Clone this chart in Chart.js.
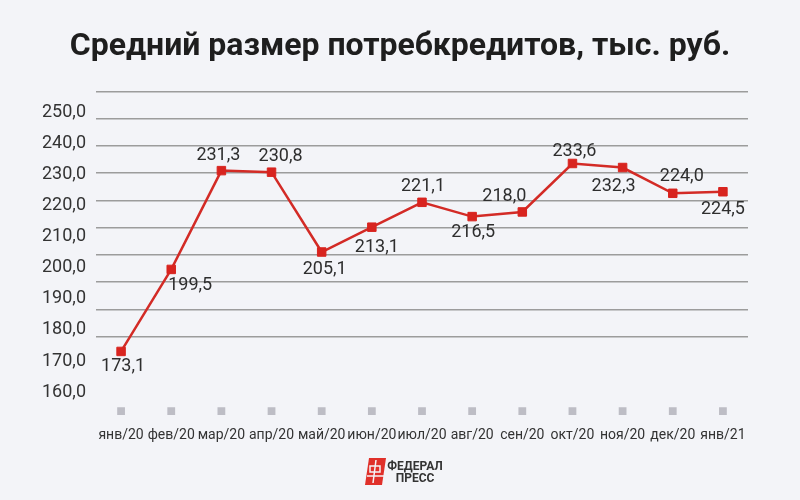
<!DOCTYPE html>
<html>
<head>
<meta charset="utf-8">
<script src="https://cdn.jsdelivr.net/npm/chart.js@4.4.1/dist/chart.umd.min.js"></script>
<style>
  html, body { margin: 0; padding: 0; background: #f3f4f8; }
  #wrap { width: 800px; height: 500px; }
</style>
</head>
<body>
<div id="wrap"><canvas id="loan-chart" width="800" height="500"></canvas></div>
<script>
let months = ['янв/20', 'фев/20', 'мар/20', 'апр/20', 'май/20', 'июн/20', 'июл/20',
              'авг/20', 'сен/20', 'окт/20', 'ноя/20', 'дек/20', 'янв/21'];
let avgLoan = [173.1, 199.5, 231.3, 230.8, 205.1, 213.1, 221.1, 216.5, 218.0, 233.6, 232.3, 224.0, 224.5];
let yTicks = [160, 170, 180, 190, 200, 210, 220, 230, 240, 250];
// grey squares row under the plot
let markerRow = [153.9, 153.9, 153.9, 153.9, 153.9, 153.9, 153.9, 153.9, 153.9, 153.9, 153.9, 153.9, 153.9];

// label offsets from each point (dx, dy)
let labelShift = [[2, 15], [19, 16], [-3, -15], [9, -16], [3, 17], [5, 20], [1, -16],
                  [1, 16], [-18, -15], [2, -12], [-9, 19], [9, -17], [0, 18]];

function fmt(v) {
    return v.toFixed(1).replace('.', ',');
}

// value labels------
const valueLabels = {
    id: 'valueLabels',
    afterDatasetsDraw(chart) {
        const ctx = chart.ctx;
        const meta = chart.getDatasetMeta(0);
        ctx.save();
        ctx.font = '18px Roboto';
        ctx.fillStyle = '#2e2e2e';
        ctx.textAlign = 'center';
        ctx.textBaseline = 'middle';
        meta.data.forEach((pt, i) => {
            const s = labelShift[i];
            ctx.fillText(fmt(avgLoan[i]), pt.x + s[0], pt.y + s[1]);
        });
        ctx.restore();
    }
};

// logo at the bottom------
const logo = {
    id: 'logo',
    afterDraw(chart) {
        const ctx = chart.ctx;
        ctx.save();
        ctx.fillStyle = '#e0302a';
        ctx.beginPath();
        ctx.moveTo(369, 458);
        ctx.lineTo(386, 458);
        ctx.lineTo(382, 485);
        ctx.lineTo(365, 485);
        ctx.closePath();
        ctx.fill();
        ctx.strokeStyle = '#f3f4f8';
        ctx.lineWidth = 1.5;
        ctx.beginPath();
        ctx.moveTo(376, 460); ctx.lineTo(373, 483);
        ctx.moveTo(367, 476); ctx.lineTo(384, 476);
        ctx.stroke();
        ctx.strokeRect(370, 466, 10, 6);
        ctx.fillStyle = '#333';
        ctx.font = 'bold 12px Roboto';
        ctx.textAlign = 'center';
        ctx.textBaseline = 'middle';
        ctx.fillText('ФЕДЕРАЛ', 415, 467);
        ctx.fillText('ПРЕСС', 415, 479);
        ctx.restore();
    }
};

const ctx = document.getElementById('loan-chart').getContext('2d');

let chart = new Chart(ctx, {
    type: 'line',
    data: {
        labels: months,
        datasets: [{
            data: avgLoan,
            borderColor: '#d32b26',
            backgroundColor: '#d8241f',
            borderWidth: 2.5,
            pointStyle: 'rect',
            pointRadius: 6,
            pointBorderWidth: 1,
            pointBorderColor: '#d8241f',
            tension: 0,
            yAxisID: 'y'
        }, {
            data: markerRow,
            showLine: false,
            pointStyle: 'rect',
            pointRadius: 5.5,
            pointBorderWidth: 0,
            backgroundColor: '#bdbdc5',
            borderColor: '#bdbdc5',
            yAxisID: 'y'
        }]
    },
    options: {
        responsive: false,
        animation: false,
        layout: { padding: { left: 0, right: 0, top: 0, bottom: 52 } },
        plugins: {
            legend: { display: false },
            tooltip: { enabled: false },
            title: {
                display: true,
                text: 'Средний размер потребкредитов, тыс. руб.',
                color: '#1e1e1e',
                font: { family: 'Roboto', size: 32, weight: 'bold' },
                padding: { top: 28, bottom: 25 }
            }
        },
        scales: {
            x: {
                offset: true,
                grid: { display: false, drawTicks: false },
                border: { display: false },
                ticks: { color: '#333', font: { family: 'Roboto', size: 14 }, padding: 4, maxRotation: 0, autoSkip: false }
            },
            y: {
                min: 150,
                max: 256.8,
                grid: { display: false, drawTicks: false },
                border: { display: false },
                afterBuildTicks: s => { s.ticks = yTicks.map(v => ({ value: v })); },
                afterFit: s => { s.width = 96; },
                ticks: {
                    color: '#333',
                    font: { family: 'Roboto', size: 18 },
                    padding: 10,
                    callback: v => fmt(v)
                }
            },
            grid: {
                position: 'right',
                min: 0,
                max: 12.17,
                reverse: true,
                afterBuildTicks: s => { s.ticks = [0, 1, 2, 3, 4, 5, 6, 7, 8, 9].map(v => ({ value: v })); },
                afterFit: s => { s.width = 52; },
                grid: { color: '#9c9c9c', lineWidth: 1.5, drawTicks: false },
                border: { display: false },
                ticks: { display: false }
            }
        }
    },
    plugins: [valueLabels, logo]
});
</script>
</body>
</html>
